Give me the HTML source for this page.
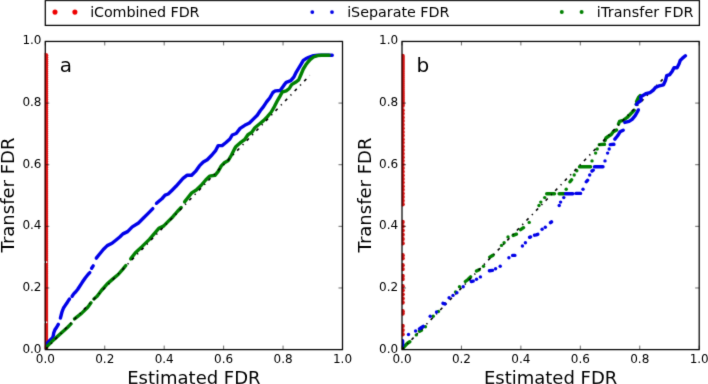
<!DOCTYPE html>
<html><head><meta charset="utf-8"><title>FDR plots</title>
<style>html,body{margin:0;padding:0;background:#fff;width:708px;height:384px;overflow:hidden}svg{display:block}</style>
</head><body>
<svg width="708" height="384" viewBox="0 0 708 384" font-family="DejaVu Sans, Bitstream Vera Sans, sans-serif" fill="#000"><defs><filter id="bg" x="0" y="0" width="708" height="384" filterUnits="userSpaceOnUse" color-interpolation-filters="sRGB"><feConvolveMatrix order="3" kernelMatrix="0.0144 0.0912 0.0144 0.0912 0.5776 0.0912 0.0144 0.0912 0.0144" divisor="1" edgeMode="none"/></filter><filter id="bt" x="0" y="0" width="708" height="384" filterUnits="userSpaceOnUse" color-interpolation-filters="sRGB"><feConvolveMatrix order="3" kernelMatrix="0.0100 0.0800 0.0100 0.0800 0.6400 0.0800 0.0100 0.0800 0.0100" divisor="1" edgeMode="none"/></filter></defs><rect width="708" height="384" fill="#fff"/><g filter="url(#bg)"><clipPath id="c45"><rect x="45.3" y="41.45" width="297.2" height="308.15"/></clipPath><g clip-path="url(#c45)"><g fill="#e41414"><circle cx="45.8" cy="55.35" r="2.45"/><circle cx="45.8" cy="57.35" r="2.45"/><circle cx="45.8" cy="59.36" r="2.45"/><circle cx="45.8" cy="61.36" r="2.45"/><circle cx="45.8" cy="63.37" r="2.45"/><circle cx="45.8" cy="65.37" r="2.45"/><circle cx="45.8" cy="67.38" r="2.45"/><circle cx="45.8" cy="69.38" r="2.45"/><circle cx="45.8" cy="71.39" r="2.45"/><circle cx="45.8" cy="73.39" r="2.45"/><circle cx="45.8" cy="75.4" r="2.45"/><circle cx="45.8" cy="77.4" r="2.45"/><circle cx="45.8" cy="79.41" r="2.45"/><circle cx="45.8" cy="81.41" r="2.45"/><circle cx="45.8" cy="83.42" r="2.45"/><circle cx="45.8" cy="85.42" r="2.45"/><circle cx="45.8" cy="87.43" r="2.45"/><circle cx="45.8" cy="89.43" r="2.45"/><circle cx="45.8" cy="91.44" r="2.45"/><circle cx="45.8" cy="93.44" r="2.45"/><circle cx="45.8" cy="95.45" r="2.45"/><circle cx="45.8" cy="97.45" r="2.45"/><circle cx="45.8" cy="99.46" r="2.45"/><circle cx="45.8" cy="101.46" r="2.45"/><circle cx="45.8" cy="103.47" r="2.45"/><circle cx="45.8" cy="105.47" r="2.45"/><circle cx="45.8" cy="107.47" r="2.45"/><circle cx="45.8" cy="109.48" r="2.45"/><circle cx="45.8" cy="111.48" r="2.45"/><circle cx="45.8" cy="113.49" r="2.45"/><circle cx="45.8" cy="115.49" r="2.45"/><circle cx="45.8" cy="117.5" r="2.45"/><circle cx="45.8" cy="119.5" r="2.45"/><circle cx="45.8" cy="121.51" r="2.45"/><circle cx="45.8" cy="123.51" r="2.45"/><circle cx="45.8" cy="125.52" r="2.45"/><circle cx="45.8" cy="127.52" r="2.45"/><circle cx="45.8" cy="129.53" r="2.45"/><circle cx="45.8" cy="131.53" r="2.45"/><circle cx="45.8" cy="133.54" r="2.45"/><circle cx="45.8" cy="135.54" r="2.45"/><circle cx="45.8" cy="137.55" r="2.45"/><circle cx="45.8" cy="139.55" r="2.45"/><circle cx="45.8" cy="141.56" r="2.45"/><circle cx="45.8" cy="143.56" r="2.45"/><circle cx="45.8" cy="145.57" r="2.45"/><circle cx="45.8" cy="147.57" r="2.45"/><circle cx="45.8" cy="149.58" r="2.45"/><circle cx="45.8" cy="151.58" r="2.45"/><circle cx="45.8" cy="153.58" r="2.45"/><circle cx="45.8" cy="155.59" r="2.45"/><circle cx="45.8" cy="157.59" r="2.45"/><circle cx="45.8" cy="159.6" r="2.45"/><circle cx="45.8" cy="161.6" r="2.45"/><circle cx="45.8" cy="163.61" r="2.45"/><circle cx="45.8" cy="165.61" r="2.45"/><circle cx="45.8" cy="167.62" r="2.45"/><circle cx="45.8" cy="169.62" r="2.45"/><circle cx="45.8" cy="171.63" r="2.45"/><circle cx="45.8" cy="173.63" r="2.45"/><circle cx="45.8" cy="175.64" r="2.45"/><circle cx="45.8" cy="177.64" r="2.45"/><circle cx="45.8" cy="179.65" r="2.45"/><circle cx="45.8" cy="181.65" r="2.45"/><circle cx="45.8" cy="183.66" r="2.45"/><circle cx="45.8" cy="185.66" r="2.45"/><circle cx="45.8" cy="187.67" r="2.45"/><circle cx="45.8" cy="189.67" r="2.45"/><circle cx="45.8" cy="191.68" r="2.45"/><circle cx="45.8" cy="193.68" r="2.45"/><circle cx="45.8" cy="195.69" r="2.45"/><circle cx="45.8" cy="197.69" r="2.45"/><circle cx="45.8" cy="199.7" r="2.45"/><circle cx="45.8" cy="201.7" r="2.45"/><circle cx="45.8" cy="203.7" r="2.45"/><circle cx="45.8" cy="205.71" r="2.45"/><circle cx="45.8" cy="207.71" r="2.45"/><circle cx="45.8" cy="209.72" r="2.45"/><circle cx="45.8" cy="211.72" r="2.45"/><circle cx="45.8" cy="213.73" r="2.45"/><circle cx="45.8" cy="215.73" r="2.45"/><circle cx="45.8" cy="217.74" r="2.45"/><circle cx="45.8" cy="219.74" r="2.45"/><circle cx="45.8" cy="221.75" r="2.45"/><circle cx="45.8" cy="223.75" r="2.45"/><circle cx="45.8" cy="225.76" r="2.45"/><circle cx="45.8" cy="227.76" r="2.45"/><circle cx="45.8" cy="229.77" r="2.45"/><circle cx="45.8" cy="231.77" r="2.45"/><circle cx="45.8" cy="233.78" r="2.45"/><circle cx="45.8" cy="235.78" r="2.45"/><circle cx="45.8" cy="237.79" r="2.45"/><circle cx="45.8" cy="239.79" r="2.45"/><circle cx="45.8" cy="241.8" r="2.45"/><circle cx="45.8" cy="243.8" r="2.45"/><circle cx="45.8" cy="245.81" r="2.45"/><circle cx="45.8" cy="247.81" r="2.45"/><circle cx="45.8" cy="249.82" r="2.45"/><circle cx="45.8" cy="251.82" r="2.45"/><circle cx="45.8" cy="253.82" r="2.45"/><circle cx="45.8" cy="255.83" r="2.45"/><circle cx="45.8" cy="257.83" r="2.45"/><circle cx="45.8" cy="259.84" r="2.45"/><circle cx="45.8" cy="261.84" r="2.45"/><circle cx="45.8" cy="263.85" r="2.45"/><circle cx="45.8" cy="265.85" r="2.45"/><circle cx="45.8" cy="267.86" r="2.45"/><circle cx="45.8" cy="269.86" r="2.45"/><circle cx="45.8" cy="271.87" r="2.45"/><circle cx="45.8" cy="273.87" r="2.45"/><circle cx="45.8" cy="275.88" r="2.45"/><circle cx="45.8" cy="277.88" r="2.45"/><circle cx="45.8" cy="279.89" r="2.45"/><circle cx="45.8" cy="281.89" r="2.45"/><circle cx="45.8" cy="283.9" r="2.45"/><circle cx="45.8" cy="285.9" r="2.45"/><circle cx="45.8" cy="287.91" r="2.45"/><circle cx="45.8" cy="289.91" r="2.45"/><circle cx="45.8" cy="291.92" r="2.45"/><circle cx="45.8" cy="293.92" r="2.45"/><circle cx="45.8" cy="295.93" r="2.45"/><circle cx="45.8" cy="297.93" r="2.45"/><circle cx="45.8" cy="299.93" r="2.45"/><circle cx="45.8" cy="301.94" r="2.45"/><circle cx="45.8" cy="303.94" r="2.45"/><circle cx="45.8" cy="305.95" r="2.45"/><circle cx="45.8" cy="307.95" r="2.45"/><circle cx="45.8" cy="309.96" r="2.45"/><circle cx="45.8" cy="311.96" r="2.45"/><circle cx="45.8" cy="313.97" r="2.45"/><circle cx="45.8" cy="315.97" r="2.45"/><circle cx="45.8" cy="317.98" r="2.45"/><circle cx="45.8" cy="319.98" r="2.45"/><circle cx="45.8" cy="321.99" r="2.45"/><circle cx="45.8" cy="323.99" r="2.45"/><circle cx="45.8" cy="326" r="2.45"/><circle cx="45.8" cy="328" r="2.45"/><circle cx="45.8" cy="330.01" r="2.45"/><circle cx="45.8" cy="332.01" r="2.45"/><circle cx="45.8" cy="334.02" r="2.45"/><circle cx="45.8" cy="336.02" r="2.45"/><circle cx="45.8" cy="338.03" r="2.45"/><circle cx="45.8" cy="340.03" r="2.45"/><circle cx="45.8" cy="342.04" r="2.45"/><circle cx="45.8" cy="344.04" r="2.45"/><circle cx="45.8" cy="346.05" r="2.45"/><circle cx="45.8" cy="348.05" r="2.45"/></g><rect x="45.9" y="261.3" width="1.3" height="1.6" fill="#fff"/><rect x="45.9" y="321.5" width="1.3" height="1.6" fill="#fff"/><path d="M45.6 347.5 L45.6 344.7 L50.25 340 L52.6 337.7 L53.4 335.3 L53.7 333 L54.9 329.8 L56.5 327.5 L58.3 324.4" fill="none" stroke="#0000e8" stroke-width="3.4" stroke-linecap="round" stroke-linejoin="round"/><path d="M60.4 318.1 L61.2 315 L62 311.9 L63.5 308 L65.1 305.6 L66.7 303.3 L68.2 300.9 L69.5 299" fill="none" stroke="#0000e8" stroke-width="3.4" stroke-linecap="round" stroke-linejoin="round"/><path d="M72.1 296.25 L73.7 293.9 L75.25 292.3 L77.6 289.5 L82.25 282.3 L85.4 277.7 L88.2 274.2 L89.8 272.6" fill="none" stroke="#0000e8" stroke-width="3.4" stroke-linecap="round" stroke-linejoin="round"/><path d="M91.6 268.3 L93.2 265.9" fill="none" stroke="#0000e8" stroke-width="3.4" stroke-linecap="round" stroke-linejoin="round"/><path d="M96.3 258.1 L99.4 254.2 L103.3 249.5 L107.25 245.6 L112 243.3 L115.8 240.2 L119.75 237 L122.9 233.9 L127.6 231.6 L132.25 226.9 L138.5 223 L143.2 218.3 L147.9 213.6 L152.8 208.6" fill="none" stroke="#0000e8" stroke-width="3.4" stroke-linecap="round" stroke-linejoin="round"/><path d="M156.5 203.3 L161.9 198.75 L165.1 195.2 L168.2 194 L172.1 190.2 L176 186.3 L179.5 182.3 L183 178.4 L186.9 175.3 L191.6 175.3 L195.5 171.4 L199.4 165.9 L203.3 162 L207.25 159.7 L211.9 155 L215.8 150.3 L218.2 145.6 L222.1 145.6 L226 142.5 L229.9 139 L232.25 135 L236.2 133.5 L240.1 128.4 L244.75 125.3 L249.4 123 L253.3 119.1 L257.25 115.2 L260.4 110.5 L263.5 106.6 L266.6 101.9 L269.75 98 L272.9 92.5 L275.2 90.9 L280.2 90.5 L283.8 85.4 L286.2 82.3 L290.8 80.7 L294 76.8 L296.3 72.1 L298.7 68.2 L301 64.3 L303.3 60.4 L305.7 58.8 L308.8 57.3 L313.5 55.7 L318.2 55.25 L332.25 55.25" fill="none" stroke="#0000e8" stroke-width="3.4" stroke-linecap="round" stroke-linejoin="round"/><path d="M45.6 348.5 L45.6 347.8 L51.8 341.6 L59.6 334.5 L67.4 327.5 L71 323.9" fill="none" stroke="#008000" stroke-width="3.4" stroke-linecap="round" stroke-linejoin="round"/><path d="M74.5 318.9 L81.5 313.4 L87.75 307.2 L91 302.8" fill="none" stroke="#008000" stroke-width="3.4" stroke-linecap="round" stroke-linejoin="round"/><path d="M93.9 299 L97.1 296.25 L101.4 290.5 L107.25 283.9 L113.5 278.4 L118.2 274.5 L122.9 269.1 L125.8 265.5" fill="none" stroke="#008000" stroke-width="3.4" stroke-linecap="round" stroke-linejoin="round"/><path d="M130.7 258.9 L135.4 252.7 L141.7 246.9 L149.4 239.4 L154.1 233.9 L158.8 228.4 L163.5 226.1 L168.2 221.4 L172.9 216.7 L177.6 211.25 L181.2 207.5" fill="none" stroke="#008000" stroke-width="3.4" stroke-linecap="round" stroke-linejoin="round"/><path d="M184.6 201.9 L188 197.5 L191.7 192.9 L196.3 190 L201 185.5 L205.7 180 L209.6 176.1 L215 175.3 L218.2 171.4 L221.3 165.9 L224.4 162.8 L228.3 160.5 L231.5 155 L234.6 148.75 L236 146.5 L241.1 142.1 L244.75 139.5 L247.9 134.7 L251.8 132.3 L254.9 127.7 L258.8 124.5 L263.5 120.6 L267.4 116.7 L271.3 112 L274.4 106.6 L277.6 100.3 L279.9 96.4 L282.25 92 L286.2 90.9 L289.3 88.5 L291.6 84.6 L295.5 82.3 L298.7 79.9 L301 74.5 L303.3 69 L305.7 65.1 L308 62 L310.4 59.4 L313.5 57 L317.4 55.6 L321.3 55.25 L329.1 55.25" fill="none" stroke="#008000" stroke-width="3.4" stroke-linecap="round" stroke-linejoin="round"/><path d="M45.3 349.6L309.81 75.35" stroke="#000" stroke-width="1.6" stroke-dasharray="3 4.8 1.3 4.7" stroke-dashoffset="13.4" fill="none"/></g><path d="M45.3 349.6v-4M45.3 41.45v4M45.3 349.6h4M342.5 349.6h-4M104.74 349.6v-4M104.74 41.45v4M45.3 287.97h4M342.5 287.97h-4M164.18 349.6v-4M164.18 41.45v4M45.3 226.34h4M342.5 226.34h-4M223.62 349.6v-4M223.62 41.45v4M45.3 164.71h4M342.5 164.71h-4M283.06 349.6v-4M283.06 41.45v4M45.3 103.08h4M342.5 103.08h-4M342.5 349.6v-4M342.5 41.45v4M45.3 41.45h4M342.5 41.45h-4" stroke="#000" stroke-width="0.6" fill="none"/><rect x="45.3" y="41.45" width="297.2" height="308.15" fill="none" stroke="#000" stroke-width="1.25"/><clipPath id="c402"><rect x="402" y="41.45" width="297.2" height="308.15"/></clipPath><g clip-path="url(#c402)"><g fill="#d41010"><circle cx="402.6" cy="55.9" r="2.2"/><circle cx="402.6" cy="57.9" r="2.2"/><circle cx="402.6" cy="59.89" r="2.2"/><circle cx="402.6" cy="61.89" r="2.2"/><circle cx="402.6" cy="63.88" r="2.2"/><circle cx="402.6" cy="65.88" r="2.2"/><circle cx="402.6" cy="67.88" r="2.2"/><circle cx="402.6" cy="69.87" r="2.2"/><circle cx="402.6" cy="71.87" r="2.2"/><circle cx="402.6" cy="73.86" r="2.2"/><circle cx="402.6" cy="75.86" r="2.2"/><circle cx="402.6" cy="77.86" r="2.2"/><circle cx="402.6" cy="79.85" r="2.2"/><circle cx="402.6" cy="81.85" r="2.2"/><circle cx="402.6" cy="83.84" r="2.2"/><circle cx="402.6" cy="85.84" r="2.2"/><circle cx="402.6" cy="87.84" r="2.2"/><circle cx="402.6" cy="89.83" r="2.2"/><circle cx="402.6" cy="91.83" r="2.2"/><circle cx="402.6" cy="93.82" r="2.2"/><circle cx="402.6" cy="95.82" r="2.2"/><circle cx="402.6" cy="97.82" r="2.2"/><circle cx="402.6" cy="99.81" r="2.2"/><circle cx="402.6" cy="101.81" r="2.2"/><circle cx="402.6" cy="103.8" r="2.2"/><circle cx="402.6" cy="105.8" r="2.2"/><circle cx="402.6" cy="110.2" r="2.2"/><circle cx="402.6" cy="113.82" r="2.2"/><circle cx="402.6" cy="117.44" r="2.2"/><circle cx="402.6" cy="121.06" r="2.2"/><circle cx="402.6" cy="124.68" r="2.2"/><circle cx="402.6" cy="128.3" r="2.2"/><circle cx="402.6" cy="131.92" r="2.2"/><circle cx="402.6" cy="135.53" r="2.2"/><circle cx="402.6" cy="139.15" r="2.2"/><circle cx="402.6" cy="142.77" r="2.2"/><circle cx="402.6" cy="146.39" r="2.2"/><circle cx="402.6" cy="150.01" r="2.2"/><circle cx="402.6" cy="153.63" r="2.2"/><circle cx="402.6" cy="157.25" r="2.2"/><circle cx="402.6" cy="160.87" r="2.2"/><circle cx="402.6" cy="164.49" r="2.2"/><circle cx="402.6" cy="168.11" r="2.2"/><circle cx="402.6" cy="171.73" r="2.2"/><circle cx="402.6" cy="175.35" r="2.2"/><circle cx="402.6" cy="178.97" r="2.2"/><circle cx="402.6" cy="182.58" r="2.2"/><circle cx="402.6" cy="186.2" r="2.2"/><circle cx="402.6" cy="189.82" r="2.2"/><circle cx="402.6" cy="193.44" r="2.2"/><circle cx="402.6" cy="197.06" r="2.2"/><circle cx="402.6" cy="200.68" r="2.2"/><circle cx="402.6" cy="204.3" r="2.2"/><circle cx="402.6" cy="222" r="2.2"/><circle cx="402.6" cy="226.26" r="2.2"/><circle cx="402.6" cy="230.52" r="2.2"/><circle cx="402.6" cy="234.78" r="2.2"/><circle cx="402.6" cy="239.04" r="2.2"/><circle cx="402.6" cy="243.3" r="2.2"/><circle cx="402.6" cy="255.2" r="2.2"/><circle cx="402.6" cy="258.3" r="2.2"/><circle cx="402.6" cy="265.2" r="2.2"/><circle cx="402.6" cy="269.1" r="2.2"/><circle cx="402.6" cy="276" r="2.2"/><circle cx="402.6" cy="279.1" r="2.2"/><circle cx="402.6" cy="286.2" r="2.2"/><circle cx="402.6" cy="290.27" r="2.2"/><circle cx="402.6" cy="294.35" r="2.2"/><circle cx="402.6" cy="298.43" r="2.2"/><circle cx="402.6" cy="302.5" r="2.2"/><circle cx="402.6" cy="311.2" r="2.2"/><circle cx="402.6" cy="313.5" r="2.2"/><circle cx="402.6" cy="325.9" r="2.2"/><circle cx="402.6" cy="330.1" r="2.2"/><circle cx="402.6" cy="334.3" r="2.2"/></g><g fill="#008000"><circle cx="416.3" cy="334.9" r="1.7"/><circle cx="425.4" cy="326.7" r="1.7"/><circle cx="433.2" cy="316.3" r="1.7"/><circle cx="438.4" cy="311.5" r="1.7"/><circle cx="444.3" cy="303.6" r="1.7"/><circle cx="455.6" cy="291.9" r="1.7"/><circle cx="459.5" cy="286.7" r="1.7"/><circle cx="483.5" cy="266.2" r="1.7"/><circle cx="501.5" cy="245.4" r="1.7"/><circle cx="504.1" cy="242.8" r="1.7"/><circle cx="508" cy="236.9" r="1.7"/><circle cx="529.2" cy="222.4" r="1.7"/><circle cx="539" cy="205.5" r="1.7"/><circle cx="540.8" cy="202.1" r="1.7"/><circle cx="544.7" cy="197.6" r="1.7"/><circle cx="566.2" cy="189.2" r="1.7"/><circle cx="574.2" cy="175" r="1.7"/><circle cx="576.8" cy="170.8" r="1.7"/><circle cx="592" cy="160.9" r="1.7"/><circle cx="595.6" cy="153.1" r="1.7"/><circle cx="597.2" cy="149" r="1.7"/></g><path d="M402.8 348.5 L404.6 346.2 L406.5 344.3 L407.8 343 L409.8 341.7 M419.5 331.25 L421.5 330.2 M465.4 281.5 L468 279.5 L470.6 276.9 M476.5 271.1 L479.1 269.8 M489.8 257.1 L493 255.2 M513.2 235.4 L516.4 234.2 M520.6 229.6 L523.5 227.7 M546.7 193.7 L554.5 193.7 M559.1 193.7 L564.3 193.7 M570 181.8 L571.6 179.8 M579.5 166.7 L590.6 166.7 M599.3 144.6 L604.5 144.3 M605 140.6 L606 138 L608.1 136.5 L611.25 134.5 L613.3 131.8 L616.5 130 M618.5 124 L619.6 121.4 L623.2 120.3 L626.9 117.7 L631 113.5 L634.2 110.4 M636.25 104.2 L638.3 101.6 M636.6 101.5 L638.5 97.4 L640.2 95.6" fill="none" stroke="#008000" stroke-width="3.4" stroke-linecap="round" stroke-linejoin="round"/><path d="M402 349.6L666.51 75.35" stroke="#000" stroke-width="1.6" stroke-dasharray="3 4.8 1.3 4.7" stroke-dashoffset="0.1" fill="none"/><g fill="#0000e8"><circle cx="408.5" cy="334.5" r="1.7"/><circle cx="415.6" cy="331" r="1.7"/><circle cx="430.2" cy="316.3" r="1.7"/><circle cx="436.5" cy="312" r="1.7"/><circle cx="449.1" cy="297.8" r="1.7"/><circle cx="453" cy="295.4" r="1.7"/><circle cx="456.9" cy="292.8" r="1.7"/><circle cx="463.2" cy="286.7" r="1.7"/><circle cx="476.5" cy="279.3" r="1.7"/><circle cx="480.4" cy="276.9" r="1.7"/><circle cx="495.6" cy="268.75" r="1.7"/><circle cx="500.2" cy="266.2" r="1.7"/><circle cx="508.9" cy="257.8" r="1.7"/><circle cx="522.4" cy="246" r="1.7"/><circle cx="525.4" cy="242.8" r="1.7"/><circle cx="542.1" cy="229.2" r="1.7"/><circle cx="545.3" cy="227.3" r="1.7"/><circle cx="559.2" cy="205.5" r="1.7"/><circle cx="560.6" cy="202.1" r="1.7"/><circle cx="563.8" cy="197.6" r="1.7"/><circle cx="583" cy="189.2" r="1.7"/><circle cx="589.7" cy="175" r="1.7"/><circle cx="605" cy="160.9" r="1.7"/><circle cx="607.6" cy="153.1" r="1.7"/><circle cx="609.2" cy="149" r="1.7"/></g><path d="M402.6 345.6 L402.6 340.6 M419.5 328.9 L420.8 328 L423.2 326.3 M443 303.3 L444.9 303.9 M471.25 281.5 L473.2 281.1 M489.4 270.8 L492.5 270.4 M512.6 255.4 L514.9 255.4 M529.6 237.3 L530.6 236.9 M534.5 235.2 L536.2 234.8 L537.8 234.3 M550.5 222.7 L551.5 221.9 M565.6 193.7 L572.8 193.7 M576 193.4 L580.6 193.4 M586.3 181.8 L587.6 180.2 M592 171 L593.2 170.2 M594.5 166.7 L603 166.7 M610.2 144.6 L613.9 144.3 M614.9 139.1 L617 136.5 L618.5 134.4 L620 131.8 L623.2 130.2 M624.8 122.4 L629 121.4 L632.1 119.3 L635.2 115.6 L637.3 112 L638.3 109.9 M636.5 104.4 L638 102.5 L640.4 101 L641.2 99 L640.6 96.9 L645.8 93.75 L650 92.6 L653.1 90.4 L655.6 87.4 L658.3 86.2 L660.4 85.6 L663.5 84.8 L665.6 80.2 L666.7 75.6 L669.8 74.6 L672.4 70.9 L674 67.8 L677.1 67.8 L679.2 63.6 L680.2 60.5 L682.3 58.4 L685.4 55.8" fill="none" stroke="#0000e8" stroke-width="3.4" stroke-linecap="round" stroke-linejoin="round"/></g><path d="M402 349.6v-4M402 41.45v4M402 349.6h4M699.2 349.6h-4M461.44 349.6v-4M461.44 41.45v4M402 287.97h4M699.2 287.97h-4M520.88 349.6v-4M520.88 41.45v4M402 226.34h4M699.2 226.34h-4M580.32 349.6v-4M580.32 41.45v4M402 164.71h4M699.2 164.71h-4M639.76 349.6v-4M639.76 41.45v4M402 103.08h4M699.2 103.08h-4M699.2 349.6v-4M699.2 41.45v4M402 41.45h4M699.2 41.45h-4" stroke="#000" stroke-width="0.6" fill="none"/><rect x="402" y="41.45" width="297.2" height="308.15" fill="none" stroke="#000" stroke-width="1.25"/><rect x="44.5" y="52.9" width="1.3" height="208.3" fill="#700808" opacity="0.75"/><rect x="44.5" y="263" width="1.3" height="58.4" fill="#700808" opacity="0.75"/><rect x="44.5" y="323.2" width="1.3" height="25.8" fill="#700808" opacity="0.75"/><rect x="401.6" y="54.2" width="1.1" height="151.8" fill="#800808" opacity="0.7"/><rect x="401.6" y="220.3" width="1.1" height="24.7" fill="#800808" opacity="0.7"/><rect x="401.6" y="253.5" width="1.1" height="6.5" fill="#800808" opacity="0.7"/><rect x="401.6" y="263.5" width="1.1" height="7.3" fill="#800808" opacity="0.7"/><rect x="401.6" y="274.3" width="1.1" height="6.5" fill="#800808" opacity="0.7"/><rect x="401.6" y="284.5" width="1.1" height="19.7" fill="#800808" opacity="0.7"/><rect x="401.6" y="309.5" width="1.1" height="5.7" fill="#800808" opacity="0.7"/><rect x="401.6" y="324.2" width="1.1" height="11.8" fill="#800808" opacity="0.7"/><rect x="45.3" y="0.5" width="654.1" height="24.9" fill="none" stroke="#000" stroke-width="1.25"/><circle cx="55" cy="12.1" r="2.55" fill="#ee0000"/><circle cx="74.9" cy="12.1" r="2.55" fill="#ee0000"/><circle cx="312.3" cy="12.1" r="1.9" fill="#0000e8"/><circle cx="332" cy="12.1" r="1.9" fill="#0000e8"/><circle cx="561.8" cy="12.1" r="2" fill="#008000"/><circle cx="581.6" cy="12.1" r="2" fill="#008000"/></g><g filter="url(#bt)"><g font-size="12"><text x="45.3" y="362.7" text-anchor="middle">0.0</text><text x="41.5" y="352.5" text-anchor="end">0.0</text><text x="104.74" y="362.7" text-anchor="middle">0.2</text><text x="41.5" y="290.87" text-anchor="end">0.2</text><text x="164.18" y="362.7" text-anchor="middle">0.4</text><text x="41.5" y="229.24" text-anchor="end">0.4</text><text x="223.62" y="362.7" text-anchor="middle">0.6</text><text x="41.5" y="167.61" text-anchor="end">0.6</text><text x="283.06" y="362.7" text-anchor="middle">0.8</text><text x="41.5" y="105.98" text-anchor="end">0.8</text><text x="342.5" y="362.7" text-anchor="middle">1.0</text><text x="41.5" y="44.35" text-anchor="end">1.0</text></g><text x="193.9" y="383.8" font-size="18" text-anchor="middle">Estimated FDR</text><text transform="translate(13.8 195.03) rotate(-90)" font-size="18" text-anchor="middle">Transfer FDR</text><text x="59.8" y="71.6" font-size="20">a</text><g font-size="12"><text x="402" y="362.7" text-anchor="middle">0.0</text><text x="398.2" y="352.5" text-anchor="end">0.0</text><text x="461.44" y="362.7" text-anchor="middle">0.2</text><text x="398.2" y="290.87" text-anchor="end">0.2</text><text x="520.88" y="362.7" text-anchor="middle">0.4</text><text x="398.2" y="229.24" text-anchor="end">0.4</text><text x="580.32" y="362.7" text-anchor="middle">0.6</text><text x="398.2" y="167.61" text-anchor="end">0.6</text><text x="639.76" y="362.7" text-anchor="middle">0.8</text><text x="398.2" y="105.98" text-anchor="end">0.8</text><text x="699.2" y="362.7" text-anchor="middle">1.0</text><text x="398.2" y="44.35" text-anchor="end">1.0</text></g><text x="550.6" y="383.8" font-size="18" text-anchor="middle">Estimated FDR</text><text transform="translate(370.5 195.03) rotate(-90)" font-size="18" text-anchor="middle">Transfer FDR</text><text x="416.5" y="71.6" font-size="20">b</text><text x="90.14" y="16.9" font-size="14.3" textLength="109.4" lengthAdjust="spacing">iCombined FDR</text><text x="347.14" y="16.9" font-size="14.3" textLength="102.3" lengthAdjust="spacing">iSeparate FDR</text><text x="596.84" y="16.9" font-size="14.3" textLength="96.6" lengthAdjust="spacing">iTransfer FDR</text></g></svg>
</body></html>
